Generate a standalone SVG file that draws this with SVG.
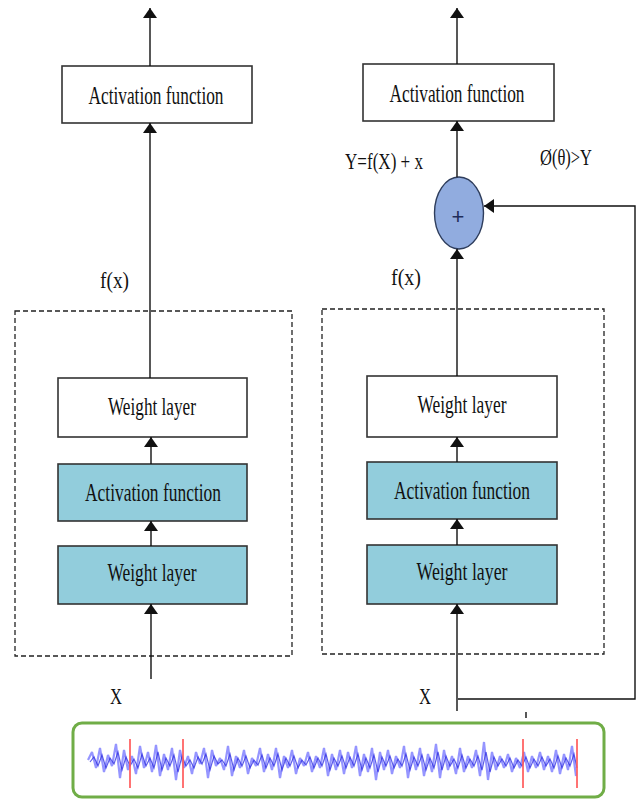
<svg xmlns="http://www.w3.org/2000/svg" width="637" height="802" viewBox="0 0 637 802">
  <defs>
    <marker id="arrow" viewBox="0 0 10 14" refX="10" refY="7" markerWidth="10" markerHeight="14" markerUnits="userSpaceOnUse" orient="auto">
      <path d="M0,0 L10,7 L0,14 Z" fill="#111"/>
    </marker>
    <filter id="soft" x="-5%" y="-30%" width="110%" height="160%">
      <feGaussianBlur stdDeviation="0.7"/>
    </filter>
  </defs>
  <style>
    .box { stroke: #333; stroke-width: 1.6; }
    .plain { fill: #ffffff; }
    .teal { fill: #92cddc; }
    .group { fill: none; stroke: #222; stroke-width: 1.3; stroke-dasharray: 5 3; }
    .wire { fill: none; stroke: #111; stroke-width: 1.4; }
    .label { font-family: 'Liberation Serif', 'Times New Roman', serif; font-size: 26px; fill: #111; text-anchor: middle; }
    .small { font-family: 'Liberation Serif', 'Times New Roman', serif; font-size: 23px; fill: #111; }
  </style>
  <rect width="637" height="802" fill="#ffffff"/>

  <!-- plain stack (left) -->
  <g id="left-group">
    <rect class="group" x="15" y="311" width="277" height="345"/>
  </g>
  <g id="left-activation-out">
    <rect class="box plain" x="62" y="66" width="190" height="57"/>
    <text class="label" x="156" y="104" textLength="135" lengthAdjust="spacingAndGlyphs">Activation function</text>
  </g>
  <g id="left-weight-2">
    <rect class="box plain" x="58" y="378" width="189" height="59"/>
    <text class="label" x="152" y="415" textLength="88" lengthAdjust="spacingAndGlyphs">Weight layer</text>
  </g>
  <g id="left-activation">
    <rect class="box teal" x="58" y="464" width="189" height="57"/>
    <text class="label" x="153" y="501" textLength="136" lengthAdjust="spacingAndGlyphs">Activation function</text>
  </g>
  <g id="left-weight-1">
    <rect class="box teal" x="58" y="546" width="189" height="58"/>
    <text class="label" x="152" y="581" textLength="89" lengthAdjust="spacingAndGlyphs">Weight layer</text>
  </g>
  <g id="left-labels">
    <text class="small" x="100" y="288" textLength="29" lengthAdjust="spacingAndGlyphs">f(x)</text>
    <text class="small" x="110" y="704" textLength="12" lengthAdjust="spacingAndGlyphs">X</text>
  </g>

  <!-- residual stack (right) -->
  <g id="right-group">
    <rect class="group" x="322" y="309" width="282" height="345"/>
  </g>
  <g id="right-activation-out">
    <rect class="box plain" x="363" y="64" width="191" height="57"/>
    <text class="label" x="457" y="102" textLength="135" lengthAdjust="spacingAndGlyphs">Activation function</text>
  </g>
  <g id="right-weight-2">
    <rect class="box plain" x="367" y="376" width="190" height="61"/>
    <text class="label" x="462" y="413" textLength="89" lengthAdjust="spacingAndGlyphs">Weight layer</text>
  </g>
  <g id="right-activation">
    <rect class="box teal" x="367" y="462" width="190" height="57"/>
    <text class="label" x="462" y="499" textLength="136" lengthAdjust="spacingAndGlyphs">Activation function</text>
  </g>
  <g id="right-weight-1">
    <rect class="box teal" x="367" y="545" width="190" height="59"/>
    <text class="label" x="462" y="580" textLength="91" lengthAdjust="spacingAndGlyphs">Weight layer</text>
  </g>
  <g id="sum">
    <ellipse cx="459" cy="213" rx="24.5" ry="36" fill="#91acdf" stroke="#2e3d5c" stroke-width="1.4"/>
    <text x="458" y="224" font-family="Liberation Sans, Arial, sans-serif" font-size="22" fill="#1f2d5a" text-anchor="middle">+</text>
  </g>
  <g id="right-labels">
    <text class="small" x="345" y="169" textLength="78" lengthAdjust="spacingAndGlyphs">Y=f(X) + x</text>
    <text class="small" x="540" y="165" textLength="52" lengthAdjust="spacingAndGlyphs">Ø(θ)&gt;Y</text>
    <text class="small" x="391" y="285" textLength="30" lengthAdjust="spacingAndGlyphs">f(x)</text>
    <text class="small" x="419" y="704" textLength="12" lengthAdjust="spacingAndGlyphs">X</text>
  </g>

  <!-- connectors -->
  <g id="connectors">
    <line class="wire" x1="150" y1="66" x2="150" y2="8" marker-end="url(#arrow)"/>
    <line class="wire" x1="150" y1="378" x2="150" y2="123" marker-end="url(#arrow)"/>
    <line class="wire" x1="151" y1="464" x2="151" y2="437" marker-end="url(#arrow)"/>
    <line class="wire" x1="151" y1="546" x2="151" y2="521" marker-end="url(#arrow)"/>
    <line class="wire" x1="151" y1="679" x2="151" y2="604" marker-end="url(#arrow)"/>

    <line class="wire" x1="457" y1="64" x2="457" y2="8" marker-end="url(#arrow)"/>
    <line class="wire" x1="457" y1="177" x2="457" y2="121" marker-end="url(#arrow)"/>
    <line class="wire" x1="457" y1="376" x2="457" y2="249" marker-end="url(#arrow)"/>
    <line class="wire" x1="457" y1="462" x2="457" y2="437" marker-end="url(#arrow)"/>
    <line class="wire" x1="457" y1="545" x2="457" y2="519" marker-end="url(#arrow)"/>
    <line class="wire" x1="457" y1="711" x2="457" y2="604" marker-end="url(#arrow)"/>
    <polyline class="wire" points="458,699 635,699 635,206 484,206" marker-end="url(#arrow)"/>
    <line class="wire" x1="526" y1="712" x2="526" y2="718" stroke-width="1"/>
  </g>

  <!-- input signal strip -->
  <g id="signal">
    <rect x="73" y="723" width="531" height="74" rx="9" fill="#ffffff" stroke="#70ad47" stroke-width="3"/>
    <g filter="url(#soft)">
      <polyline fill="none" stroke="#6a6aff" stroke-opacity="0.7" stroke-width="2.2" stroke-linejoin="bevel" points="88,760 92,752 96,768 100,748 104,772 108,755 112,766 116,744 120,778 124,750 128,770 132,756 136,774 140,746 144,768 148,752 152,772 156,745 160,776 164,754 168,770 172,748 176,780 180,750 184,768 188,756 192,774 196,752 200,764 204,748 208,778 212,750 216,766 220,758 224,770 228,746 232,776 236,756 240,768 244,750 248,774 252,758 256,766 260,748 264,772 268,754 272,770 276,748 280,778 284,756 288,768 292,750 296,774 300,758 304,766 308,752 312,772 316,756 320,768 324,748 328,776 332,754 336,770 340,750 344,774 348,752 352,768 356,746 360,776 364,754 368,772 372,748 376,780 380,752 384,770 388,750 392,774 396,756 400,768 404,746 408,778 412,752 416,770 420,748 424,776 428,754 432,772 436,744 440,778 444,750 448,770 452,756 456,774 460,748 464,772 468,756 472,768 476,750 480,776 484,742 488,780 492,752 496,770 500,756 504,768 508,754 512,772 516,758 520,768 524,752 528,772 532,756 536,768 540,752 544,770 548,756 552,772 556,750 560,774 564,754 568,770 572,746 576,776"/>
      <polyline fill="none" stroke="#2a2ae0" stroke-opacity="0.75" stroke-width="1.2" points="90,762 94,757 98,766 102,755 106,768 110,758 114,764 118,752 122,770 126,757 130,766 134,759 138,768 142,754 146,766 150,758 154,768 158,752 162,770 166,758 170,766 174,755 178,772 182,756 186,766 190,760 194,768 198,757 202,764 206,754 210,770 214,756 218,764 222,760 226,766 230,754 234,770 238,758 242,766 246,756 250,768 254,760 258,765 262,755 266,768 270,758 274,766 278,754 282,770 286,758 290,766 294,756 298,768 302,760 306,765 310,757 314,768 318,758 322,766 326,754 330,770 334,758 338,766 342,756 346,768 350,757 354,766 358,754 362,770 366,758 370,768 374,755 378,772 382,757 386,766 390,756 394,768 398,759 402,766 406,754 410,770 414,757 418,766 422,755 426,770 430,758 434,768 438,752 442,770 446,756 450,766 454,759 458,768 462,755 466,768 470,759 474,766 478,756 482,770 486,752 490,772 494,757 498,766 502,759 506,766 510,758 514,768 518,760 522,766 526,757 530,768 534,759 538,766 542,757 546,766 550,759 554,768 558,756 562,768 566,758 570,766 574,754 577,768"/>
    </g>
    <g stroke="#ff5a5a" stroke-opacity="0.85" stroke-width="2">
      <line x1="130" y1="739" x2="130" y2="788"/>
      <line x1="183" y1="739" x2="183" y2="788"/>
      <line x1="523" y1="739" x2="523" y2="788"/>
      <line x1="577" y1="739" x2="577" y2="788"/>
    </g>
  </g>
</svg>
